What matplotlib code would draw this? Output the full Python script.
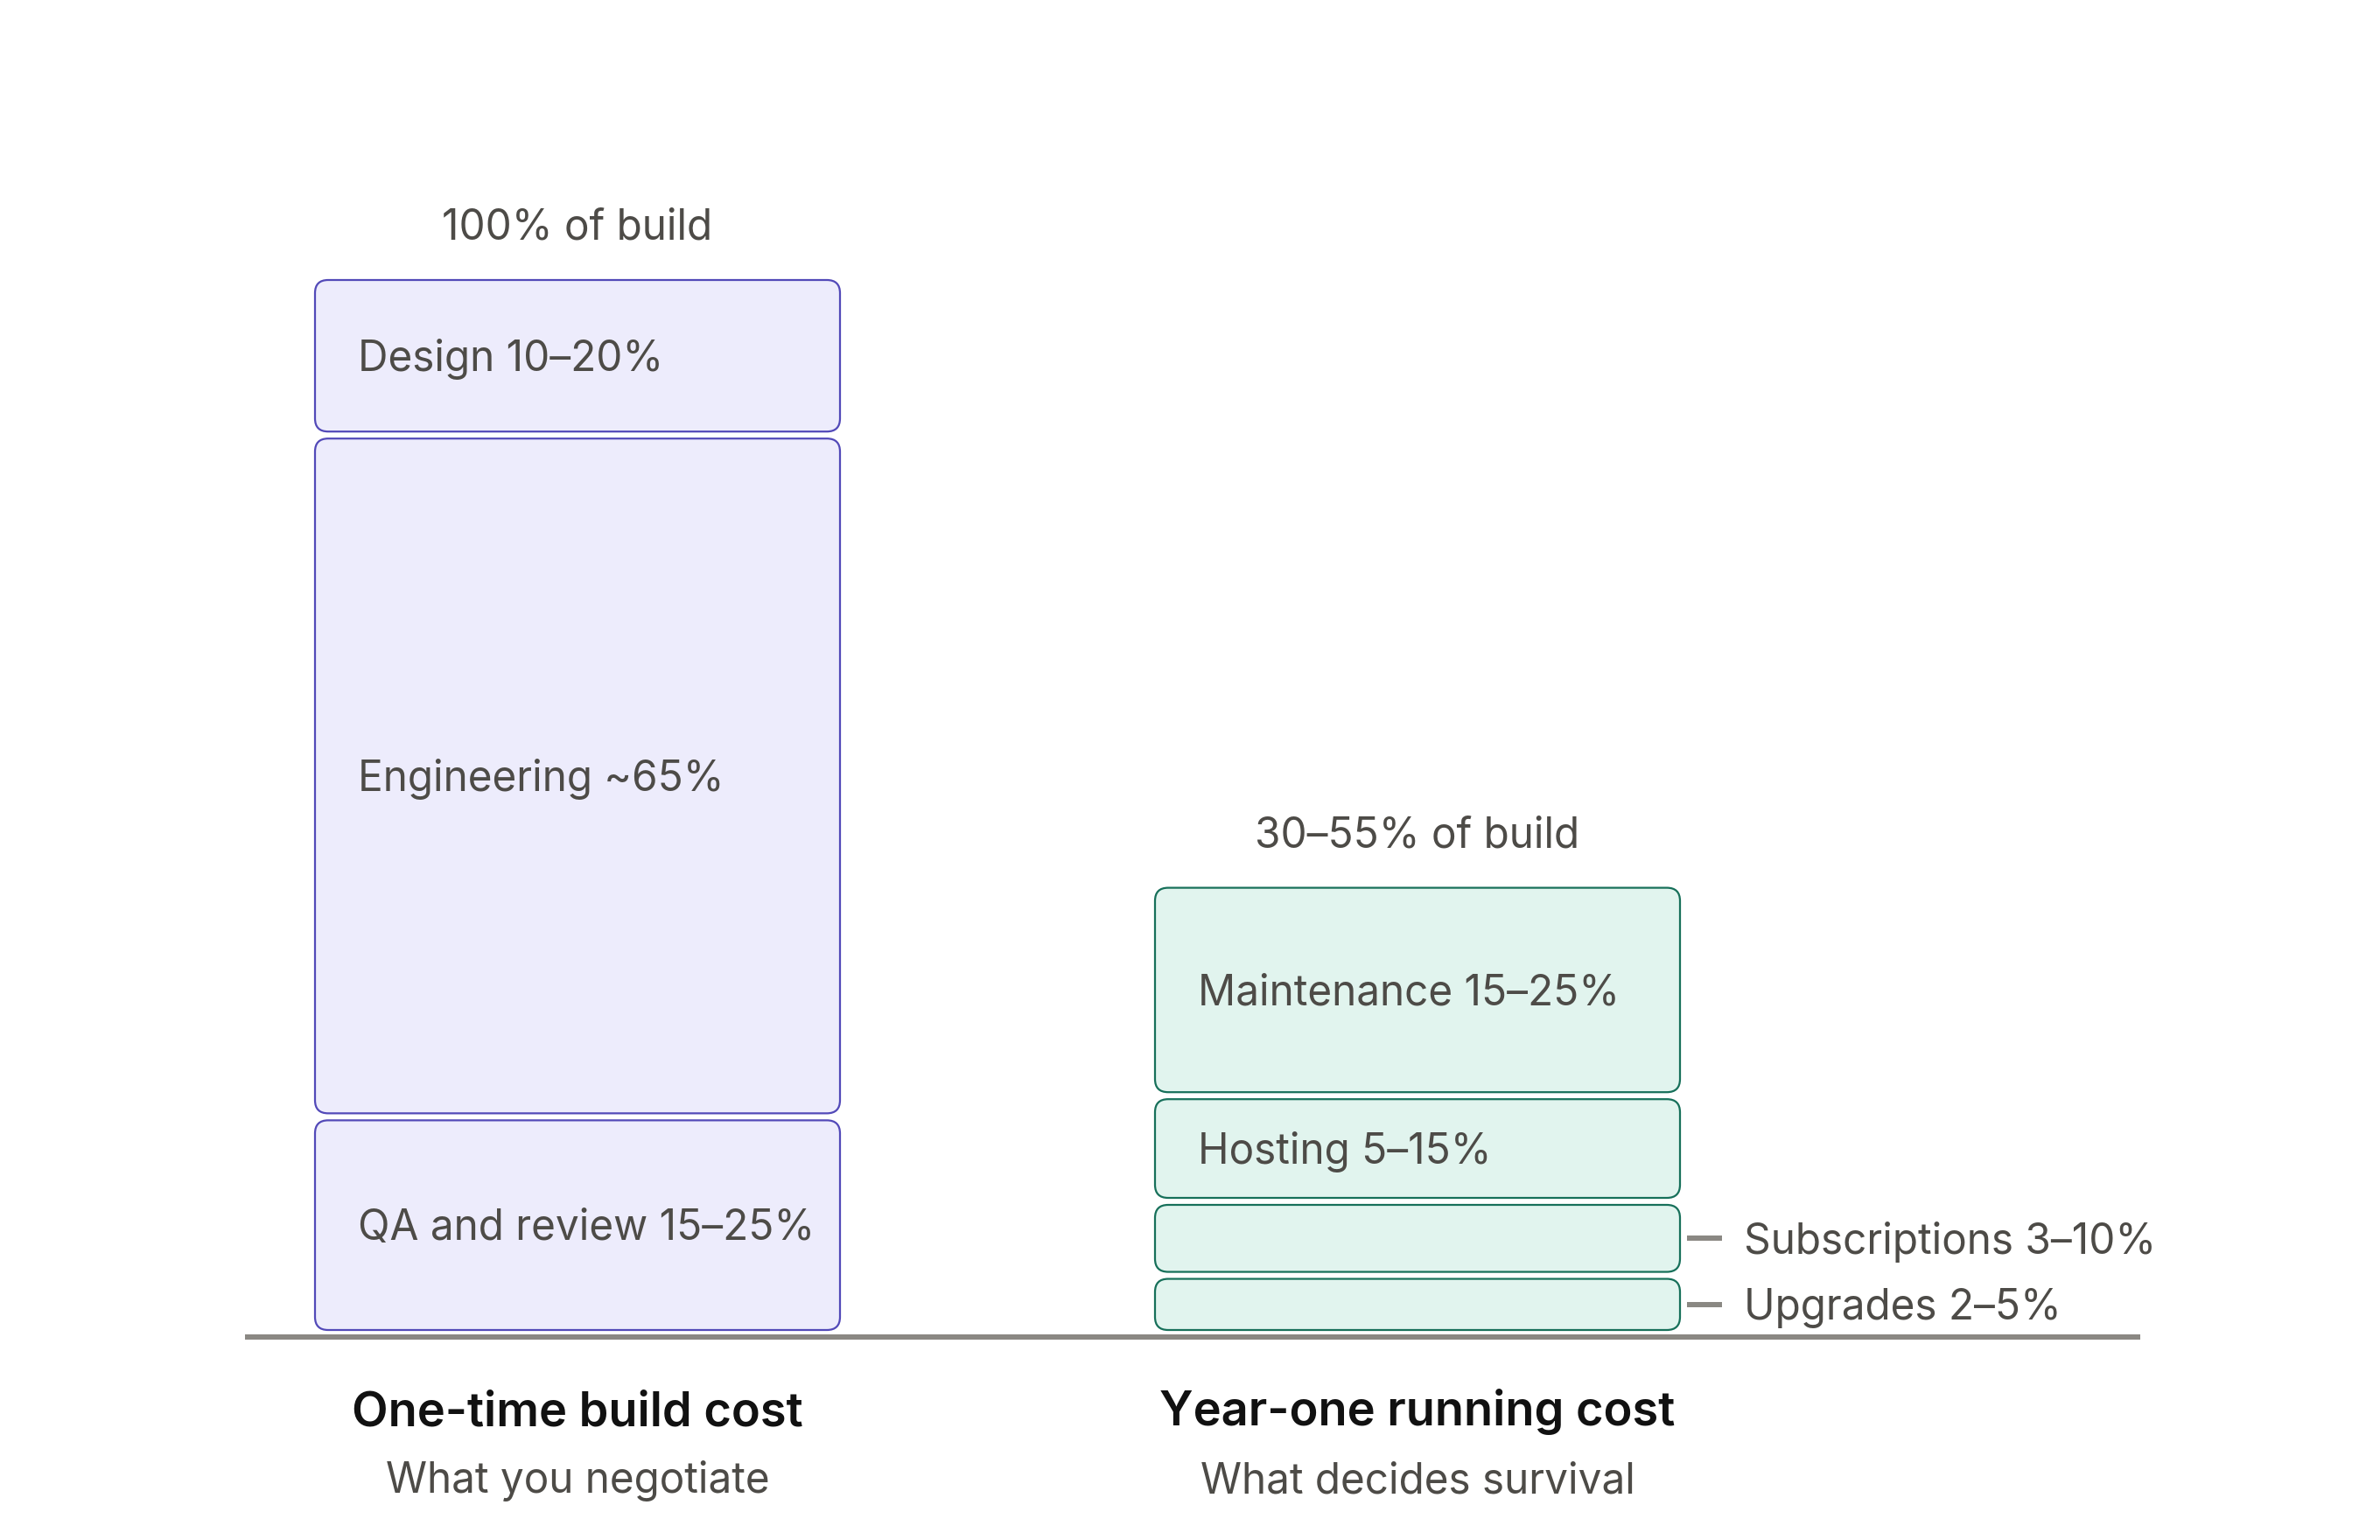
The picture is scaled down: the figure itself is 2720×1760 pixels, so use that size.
import matplotlib
matplotlib.use("Agg")
import matplotlib.pyplot as plt
from matplotlib.patches import FancyBboxPatch

plt.rcParams['font.family'] = ['Inter', 'DejaVu Sans']

# ---- data ----
categories = ["One-time build cost", "Year-one running cost"]
subtitles = ["What you negotiate", "What decides survival"]
total_labels = ["100% of build", "30–55% of build"]

build_labels = ["QA and review 15–25%", "Engineering ~65%", "Design 10–20%"]
build_values = [20.5, 64.5, 15.0]

run_labels = ["Upgrades 2–5%", "Subscriptions 3–10%", "Hosting 5–15%", "Maintenance 15–25%"]
run_values = [5.5, 7.0, 10.0, 20.0]

# ---- layout ----
W, H, DPI = 2720, 1760, 200
PT = 72 / DPI  # points per pixel
fig = plt.figure(figsize=(W / DPI, H / DPI), dpi=DPI)
ax = fig.add_axes([0, 0, 1, 1])
ax.axis('off')

py = 12.08   # pixels per percent
px = 960.0   # pixels per category step
base_from_bottom = H - 1528
ax.set_ylim(-base_from_bottom / py, (H - base_from_bottom) / py)
ax.set_xlim(-660 / px, (W - 660) / px)

bw = 600 / px
gap = 8 / py
radius = 15 / px
aspect = px / py

FS = 17.2
text_col = "#4d4b47"
styles = [
    dict(fc="#edecfc", ec="#5249b8"),
    dict(fc="#e1f4ee", ec="#17705a"),
]

series = [(build_values, build_labels), (run_values, run_labels)]

for i, (vals, labs) in enumerate(series):
    bottom = 0.0
    for v, lab in zip(vals, labs):
        y0 = bottom + gap
        h = v - gap
        patch = FancyBboxPatch((i - bw / 2, y0), bw, h,
                               boxstyle=f"round,pad=0,rounding_size={radius}",
                               mutation_aspect=aspect,
                               fc=styles[i]["fc"], ec=styles[i]["ec"], lw=0.8,
                               zorder=2)
        ax.add_patch(patch)
        yc = y0 + h / 2
        if v >= 8:
            ax.annotate(lab, (i - bw / 2, yc), xytext=(49 * PT, -6.2),
                        textcoords='offset points', ha='left', va='baseline',
                        fontsize=FS, color=text_col, zorder=3)
        else:
            xr = i + bw / 2
            ax.plot([xr + 8 / px, xr + 48 / px], [yc, yc], color="#8a8883",
                    lw=6 * PT, solid_capstyle='butt', zorder=3)
            ax.annotate(lab, (xr + 73 / px, yc), xytext=(0, -6.2),
                        textcoords='offset points', ha='left', va='baseline',
                        fontsize=FS, color=text_col, zorder=3)
        bottom += v
    ax.annotate(total_labels[i], (i, bottom), xytext=(0, 46 * PT),
                textcoords='offset points', ha='center', va='baseline',
                fontsize=FS, color=text_col)
    ax.annotate(categories[i], (i, 0), xytext=(0, -(1629 - 1528) * PT),
                textcoords='offset points', ha='center', va='baseline',
                fontsize=19.5, fontweight='semibold', color="#111111")
    ax.annotate(subtitles[i], (i, 0), xytext=(0, -(1706 - 1528) * PT),
                textcoords='offset points', ha='center', va='baseline',
                fontsize=FS, color=text_col)

# baseline
ax.plot([(280 - 660) / px, (2446 - 660) / px], [0, 0], color="#8a8883",
        lw=6 * PT, solid_capstyle='butt', zorder=4)

fig.savefig("out.png", dpi=DPI, facecolor="white")
